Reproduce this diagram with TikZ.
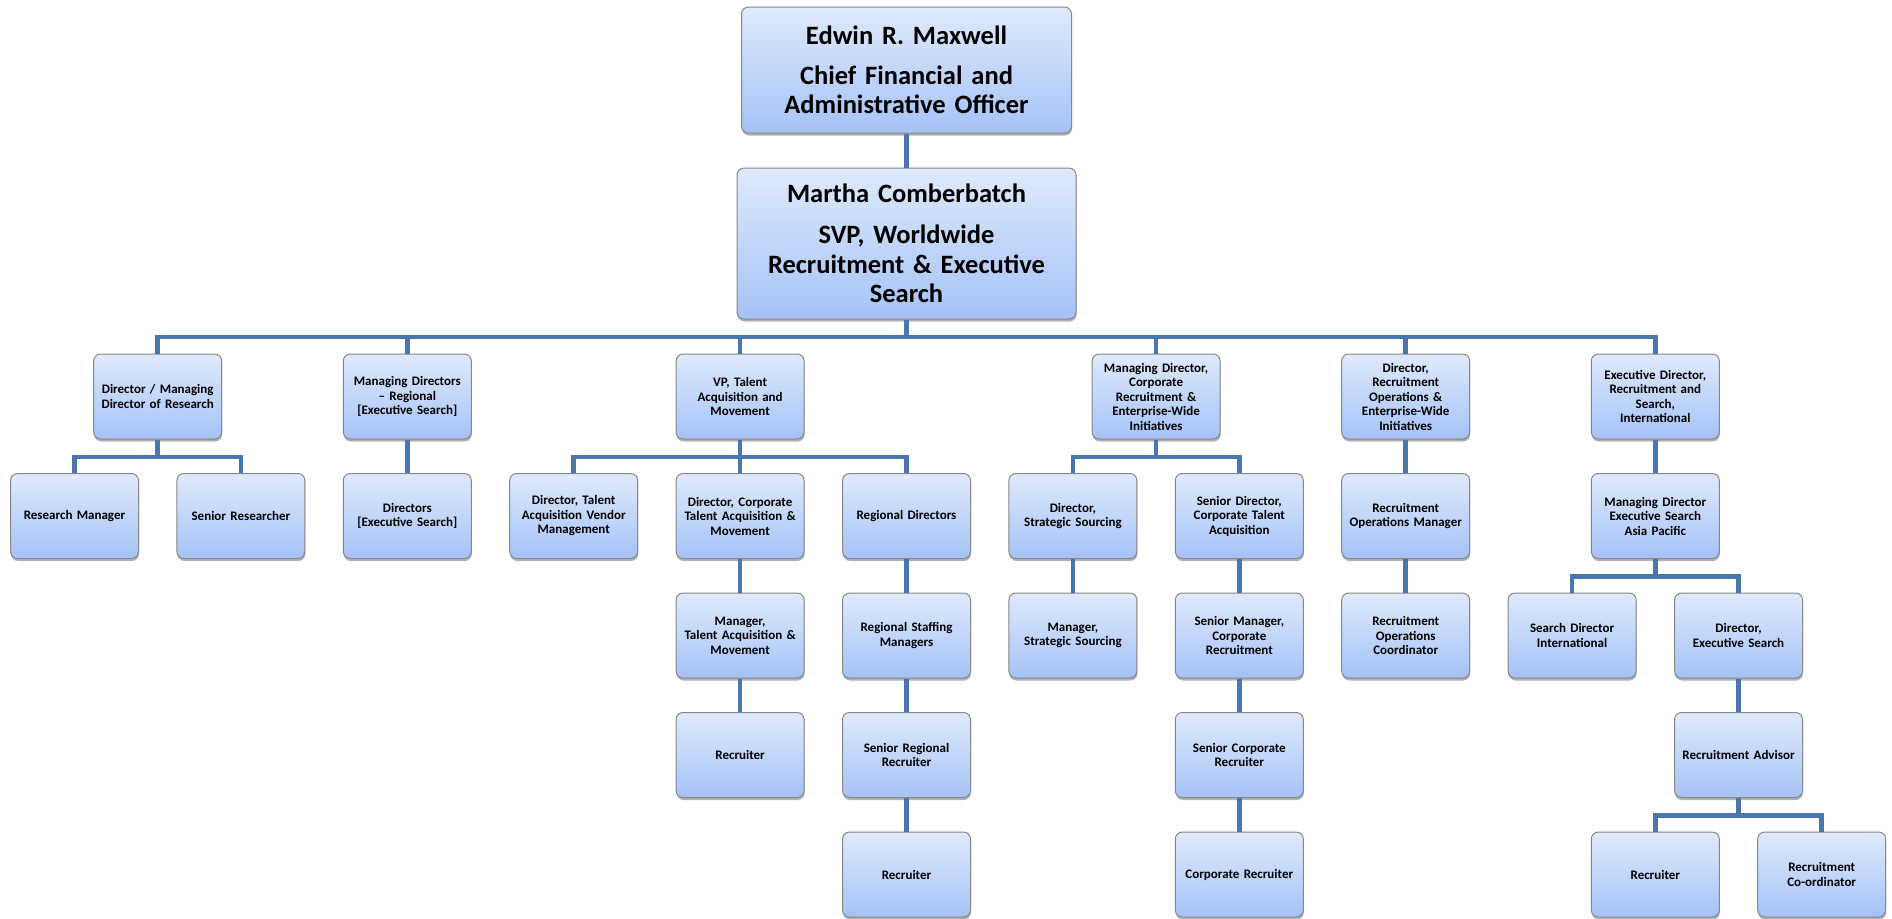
\documentclass[tikz,border=0pt]{standalone}
\usepackage{fontspec}
\setmainfont{Carlito}
\usetikzlibrary{shadows}
\definecolor{boxtop}{HTML}{DFEAFC}
\definecolor{boxbot}{HTML}{A5C2F7}
\definecolor{boxline}{HTML}{878787}
\definecolor{conncol}{HTML}{4A76AD}
\tikzset{
  orgbox/.style={rectangle, rounded corners=7pt, draw=boxline, line width=1pt,
    top color=boxtop, bottom color=boxbot, minimum width=128pt, minimum height=85pt,
    text width=124pt, align=center, inner sep=0pt,
    font=\fontsize{13}{14.5}\selectfont\bfseries,
    drop shadow={shadow xshift=0.5pt, shadow yshift=-2.5pt, opacity=0.3, fill=black}},
  topbox/.style={orgbox, font=\fontsize{26.5}{29.5}\selectfont\bfseries, text width=330pt},
  conn/.style={draw=conncol, line width=4.5pt, line join=miter}
}
\begin{document}
\begin{tikzpicture}[x=1pt, y=-1pt]
\useasboundingbox[fill=white] (0,0) rectangle (1892,918);
\begin{scope}[x=166.4pt, xshift=74.5pt]
% top
\node[topbox, minimum width=326pt, minimum height=126pt] (edwin) at (5,70)
  {Edwin R. Maxwell\\[10.5pt]Chief Financial and\\Administrative Officer};
\node[topbox, minimum width=339pt, minimum height=151pt] (martha) at (5,243.5)
  {Martha Comberbatch\\[11.5pt]SVP, Worldwide\\Recruitment \& Executive\\Search};
\coordinate (bus) at (0,337);
% row 1
\node[orgbox] (dm)  at (0.5,396.5) {Director / Managing\\Director of Research};
\node[orgbox] (mdr) at (2,396.5)   {Managing Directors\\– Regional\\{[}Executive Search{]}};
\node[orgbox] (vp)  at (4,396.5)   {VP, Talent\\Acquisition and\\Movement};
\node[orgbox] (mdc) at (6.5,396.5) {Managing Director,\\Corporate\\Recruitment \&\\Enterprise-Wide\\Initiatives};
\node[orgbox] (dro) at (8,396.5)   {Director,\\Recruitment\\Operations \&\\Enterprise-Wide\\Initiatives};
\node[orgbox] (edi) at (9.5,396.5) {Executive Director,\\Recruitment and\\Search,\\International};
% row 2
\node[orgbox] (rm)    at (0,516)   {Research Manager};
\node[orgbox] (sr)    at (1,516)   {Senior Researcher};
\node[orgbox] (des)   at (2,516)   {Directors\\{[}Executive Search{]}};
\node[orgbox] (dtav)  at (3,516)   {Director, Talent\\Acquisition Vendor\\Management};
\node[orgbox] (dcta)  at (4,516)   {Director, Corporate\\Talent Acquisition \&\\Movement};
\node[orgbox] (rd)    at (5,516)   {Regional Directors};
\node[orgbox] (dss)   at (6,516)   {Director,\\Strategic Sourcing};
\node[orgbox] (sdcta) at (7,516)   {Senior Director,\\Corporate Talent\\Acquisition};
\node[orgbox] (rom)   at (8,516)   {Recruitment\\Operations Manager};
\node[orgbox] (mdap)  at (9.5,516) {Managing Director\\Executive Search\\Asia Pacific};
% row 3
\node[orgbox] (mta)  at (4,635.5)  {Manager,\\Talent Acquisition \&\\Movement};
\node[orgbox] (rsm)  at (5,635.5)  {Regional Staffing\\Managers};
\node[orgbox] (mss)  at (6,635.5)  {Manager,\\Strategic Sourcing};
\node[orgbox] (smcr) at (7,635.5)  {Senior Manager,\\Corporate\\Recruitment};
\node[orgbox] (roc)  at (8,635.5)  {Recruitment\\Operations\\Coordinator};
\node[orgbox] (sdi)  at (9,635.5)  {Search Director\\International};
\node[orgbox] (dexs) at (10,635.5) {Director,\\Executive Search};
% row 4
\node[orgbox] (reca) at (4,755)    {Recruiter};
\node[orgbox] (srr)  at (5,755)    {Senior Regional\\Recruiter};
\node[orgbox] (scr)  at (7,755)    {Senior Corporate\\Recruiter};
\node[orgbox] (ra)   at (10,755)   {Recruitment Advisor};
% row 5
\node[orgbox] (recb) at (5,874.5)    {Recruiter};
\node[orgbox] (cr)   at (7,874.5)    {Corporate Recruiter};
\node[orgbox] (recc) at (9.5,874.5)  {Recruiter};
\node[orgbox] (rco)  at (10.5,874.5) {Recruitment\\Co-ordinator};
% connectors
\draw[conn] (edwin.south) -- (martha.north);
\foreach \c in {dm,mdr,vp,mdc,dro,edi}
  \draw[conn] (martha.south) |- (\c.north |- bus) -- (\c.north);
\foreach \p/\c in {dm/rm, dm/sr, mdr/des, vp/dtav, vp/dcta, vp/rd,
                   mdc/dss, mdc/sdcta, dro/rom, edi/mdap,
                   dcta/mta, rd/rsm, dss/mss, sdcta/smcr, rom/roc,
                   mdap/sdi, mdap/dexs,
                   mta/reca, rsm/srr, smcr/scr, dexs/ra,
                   srr/recb, scr/cr, ra/recc, ra/rco}
  \draw[conn] (\p.south) -- ++(0,17.25) -| (\c.north);
\end{scope}
\end{tikzpicture}
\end{document}
